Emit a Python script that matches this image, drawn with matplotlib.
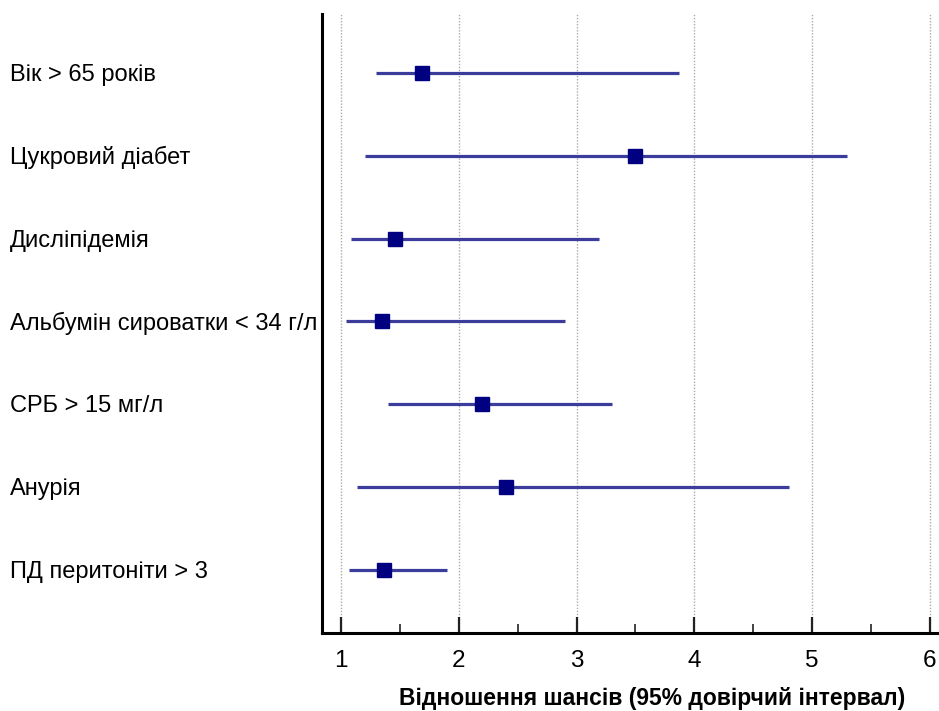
import matplotlib
matplotlib.use("Agg")
import matplotlib.pyplot as plt
from matplotlib.ticker import MultipleLocator

plt.rcParams['font.family'] = ['Liberation Sans', 'DejaVu Sans']

categories = ["Вік > 65 років", "Цукровий діабет", "Дисліпідемія",
              "Альбумін сироватки < 34 г/л", "СРБ > 15 мг/л", "Анурія",
              "ПД перитоніти > 3"]
odds_ratio = [1.69, 3.50, 1.46, 1.345, 2.195, 2.40, 1.365]
ci_low = [1.30, 1.20, 1.085, 1.04, 1.40, 1.14, 1.07]
ci_high = [3.87, 5.30, 3.19, 2.90, 3.30, 4.80, 1.90]
xticks = [1, 2, 3, 4, 5, 6]
xlabel = "Відношення шансів (95% довірчий інтервал)"

fig = plt.figure(figsize=(9.39, 7.11), dpi=100)
ax = fig.add_axes([322/939, 1 - 633/711, 1 - 322/939, (633 - 14)/711])

ypos = list(range(len(categories)))
ax.hlines(ypos, ci_low, ci_high, color='#3c3c9c', linewidth=2.3, zorder=3)
ax.plot(odds_ratio, ypos, linestyle='none', marker='s', markersize=9.5,
        color='#000080', zorder=4)

ax.set_xlim(0.839, 6.077)
ax.set_ylim(6.76, -0.71)
ax.set_xticks(xticks)
ax.set_xticklabels([str(t) for t in xticks], fontsize=17.5)
ax.xaxis.set_minor_locator(MultipleLocator(0.5))
ax.tick_params(axis='x', which='major', direction='in', length=11.5, width=1.6,
               pad=12, color='#222222')
ax.tick_params(axis='x', which='minor', direction='in', length=6.5, width=1.2,
               color='#222222')
ax.set_yticks([])
ax.grid(axis='x', which='major', linestyle=(0, (1, 1.2)), color='#aaaaaa',
        linewidth=1.0, zorder=0)

for s in ['top', 'right']:
    ax.spines[s].set_visible(False)
ax.spines['left'].set_linewidth(2.2)
ax.spines['bottom'].set_linewidth(2.2)

for y, lab in zip(ypos, categories):
    fig.text(10/939, 1 - (75 + 82.8*y)/711, lab, fontsize=17,
             ha='left', va='center')

fig.text(652/939, 1 - 698/711, xlabel, fontsize=16.5, fontweight='bold',
         ha='center', va='center')

fig.savefig('out.png', dpi=100)
